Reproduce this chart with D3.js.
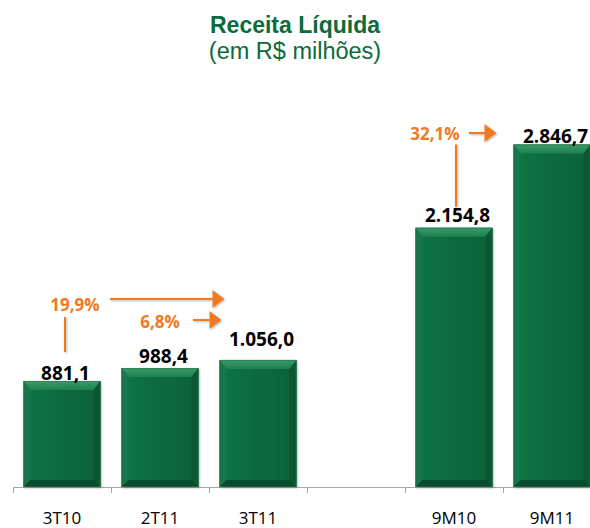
<!DOCTYPE html>
<html>
<head>
<meta charset="utf-8">
<script src="https://cdn.jsdelivr.net/npm/d3@7/dist/d3.min.js"></script>
<style>
  html, body { margin: 0; padding: 0; background: #ffffff; }
  svg { display: block; }
</style>
</head>
<body>
<svg id="chart" width="590" height="528"></svg>
<script>
// ---- Data ----
const categories = ["3T10", "2T11", "3T11", "", "9M10", "9M11"];
const values = [881.1, 988.4, 1056.0, null, 2154.8, 2846.7];
const valueLabels = ["881,1", "988,4", "1.056,0", "", "2.154,8", "2.846,7"];
const growthLabels = ["19,9%", "6,8%", "32,1%"];
const titleText = "Receita Líquida";
const subtitleText = "(em R$ milhões)";

// ---- Layout / style ----
const labelLift = [1, 5, 14, 0, 6, 1];
const green = "#0b6b3b";
const orange = "#f07a23";

const svg = d3.select("#chart");
const W = 590, H = 528;
const keys = categories.map((c, i) => "k" + i);

const x = d3.scaleBand().domain(keys).range([13, 601]).paddingInner(0.214).paddingOuter(0.107);
const y = d3.scaleLinear().domain([0, 3000]).range([487, 126]);

// defs
const defs = svg.append("defs");
const gFace = defs.append("linearGradient").attr("id", "face").attr("x1", 0).attr("x2", 1).attr("y1", 0).attr("y2", 0);
gFace.append("stop").attr("offset", "0%").attr("stop-color", "#127445");
gFace.append("stop").attr("offset", "50%").attr("stop-color", "#0e6a3d");
gFace.append("stop").attr("offset", "100%").attr("stop-color", "#0c6238");
const gTop = defs.append("linearGradient").attr("id", "topb").attr("x1", 0).attr("x2", 0).attr("y1", 0).attr("y2", 1);
gTop.append("stop").attr("offset", "0%").attr("stop-color", "#3a9a6a");
gTop.append("stop").attr("offset", "100%").attr("stop-color", "#1f8050");
const shadow = defs.append("filter").attr("id", "sh").attr("x", "-20%").attr("y", "-20%").attr("width", "140%").attr("height", "140%");
shadow.append("feDropShadow").attr("dx", 1).attr("dy", 1).attr("stdDeviation", 1.2).attr("flood-color", "#000").attr("flood-opacity", 0.3);

// title
svg.append("text").attr("x", 295).attr("y", 33).attr("text-anchor", "middle")
  .attr("font-family", "Liberation Sans, Arial, sans-serif").attr("font-weight", "bold")
  .attr("font-size", 23).attr("fill", green).text(titleText);
svg.append("text").attr("x", 295).attr("y", 59).attr("text-anchor", "middle")
  .attr("font-family", "Liberation Sans, Arial, sans-serif")
  .attr("font-size", 23.5).attr("fill", green).text(subtitleText);

// axis
const axisG = svg.append("g");
axisG.append("line").attr("x1", 13).attr("x2", W).attr("y1", 487.5).attr("y2", 487.5)
  .attr("stroke", "#a6a6a6").attr("stroke-width", 1);
keys.forEach((k, i) => {
  const tx = Math.round(x(k) - x.step() * x.paddingOuter()) + 0.5;
  axisG.append("line").attr("x1", tx).attr("x2", tx).attr("y1", 487).attr("y2", 493)
    .attr("stroke", "#a6a6a6").attr("stroke-width", 1);
});
axisG.selectAll("text.cat").data(categories).join("text")
  .attr("class", "cat")
  .attr("x", (d, i) => x(keys[i]) + x.bandwidth() / 2)
  .attr("y", 524)
  .attr("text-anchor", "middle")
  .attr("font-family", "Open Sans, sans-serif")
  .attr("font-size", 17).attr("fill", "#000").text(d => d);

// bars
const bev = 9, sideB = 7;
const barData = values.map((v, i) => ({ v, k: keys[i], i })).filter(d => d.v != null);
const bars = svg.selectAll("g.bar").data(barData).join("g").attr("class", "bar");
bars.each(function(d) {
  const g = d3.select(this);
  const x0 = x(d.k), x1 = x0 + x.bandwidth();
  const y0 = y(d.v), y1 = y(0);
  g.append("rect").attr("x", x0).attr("y", y0).attr("width", x1 - x0).attr("height", y1 - y0)
    .attr("fill", "url(#face)").attr("filter", "url(#sh)");
  g.append("polygon").attr("points", [[x0, y0], [x1, y0], [x1 - sideB, y0 + bev], [x0 + sideB, y0 + bev]].join(" "))
    .attr("fill", "url(#topb)");
  g.append("polygon").attr("points", [[x0, y0], [x0 + sideB, y0 + bev], [x0 + sideB, y1 - sideB], [x0, y1]].join(" "))
    .attr("fill", "#16774a");
  g.append("polygon").attr("points", [[x1, y0], [x1 - sideB, y0 + bev], [x1 - sideB, y1 - sideB], [x1, y1]].join(" "))
    .attr("fill", "#0a5731");
  g.append("polygon").attr("points", [[x0, y1], [x0 + sideB, y1 - sideB], [x1 - sideB, y1 - sideB], [x1, y1]].join(" "))
    .attr("fill", "#094c2b");
  g.append("rect").attr("x", x0 + 0.5).attr("y", y0 + 0.5).attr("width", x1 - x0 - 1).attr("height", y1 - y0 - 1)
    .attr("fill", "none").attr("stroke", "#2c7050").attr("stroke-width", 1).attr("stroke-opacity", 0.6);
});

// value labels
svg.selectAll("text.val").data(barData).join("text")
  .attr("class", "val")
  .attr("x", d => x(d.k) + x.bandwidth() / 2 + 3.5)
  .attr("y", d => y(d.v) - labelLift[d.i])
  .attr("text-anchor", "middle")
  .attr("font-family", "Open Sans, sans-serif").attr("font-weight", "bold")
  .attr("font-size", 19).attr("fill", "#000").text(d => valueLabels[d.i]);

// growth annotations
const ann = svg.append("g").attr("filter", "url(#sh)");
function arrow(xa, xb, yy) {
  ann.append("line").attr("x1", xa).attr("x2", xb - 11).attr("y1", yy).attr("y2", yy)
    .attr("stroke", orange).attr("stroke-width", 2);
  ann.append("polygon").attr("points", [[xb - 12, yy - 9], [xb, yy], [xb - 12, yy + 9]].join(" "))
    .attr("fill", orange);
}
function vline(xx, ya, yb) {
  ann.append("line").attr("x1", xx).attr("x2", xx).attr("y1", ya).attr("y2", yb)
    .attr("stroke", orange).attr("stroke-width", 2);
}
function glabel(txt, cx, yy) {
  svg.append("text").attr("x", cx).attr("y", yy).attr("text-anchor", "middle")
    .attr("font-family", "Open Sans, sans-serif").attr("font-weight", "bold")
    .attr("font-size", 17).attr("fill", orange).text(txt);
}
const c0 = x(keys[0]) + x.bandwidth() / 2;
const c1 = x(keys[1]) + x.bandwidth() / 2;
const c4 = x(keys[4]) + x.bandwidth() / 2;
// 19,9%
glabel(growthLabels[0], c0 + 13, 311);
vline(c0 + 3, y(values[0]) - 29, y(values[0]) - 64);
arrow(c0 + 48, x(keys[2]) + 5, 299);
// 6,8%
glabel(growthLabels[1], c1, 328);
arrow(c1 + 33, x(keys[2]) + 2, 320);
// 32,1%
glabel(growthLabels[2], c4 - 19, 140);
vline(c4 + 2, y(values[4]) - 21, y(values[5]));
arrow(c4 + 15, x(keys[5]) - 17, 133);
</script>
</body>
</html>
